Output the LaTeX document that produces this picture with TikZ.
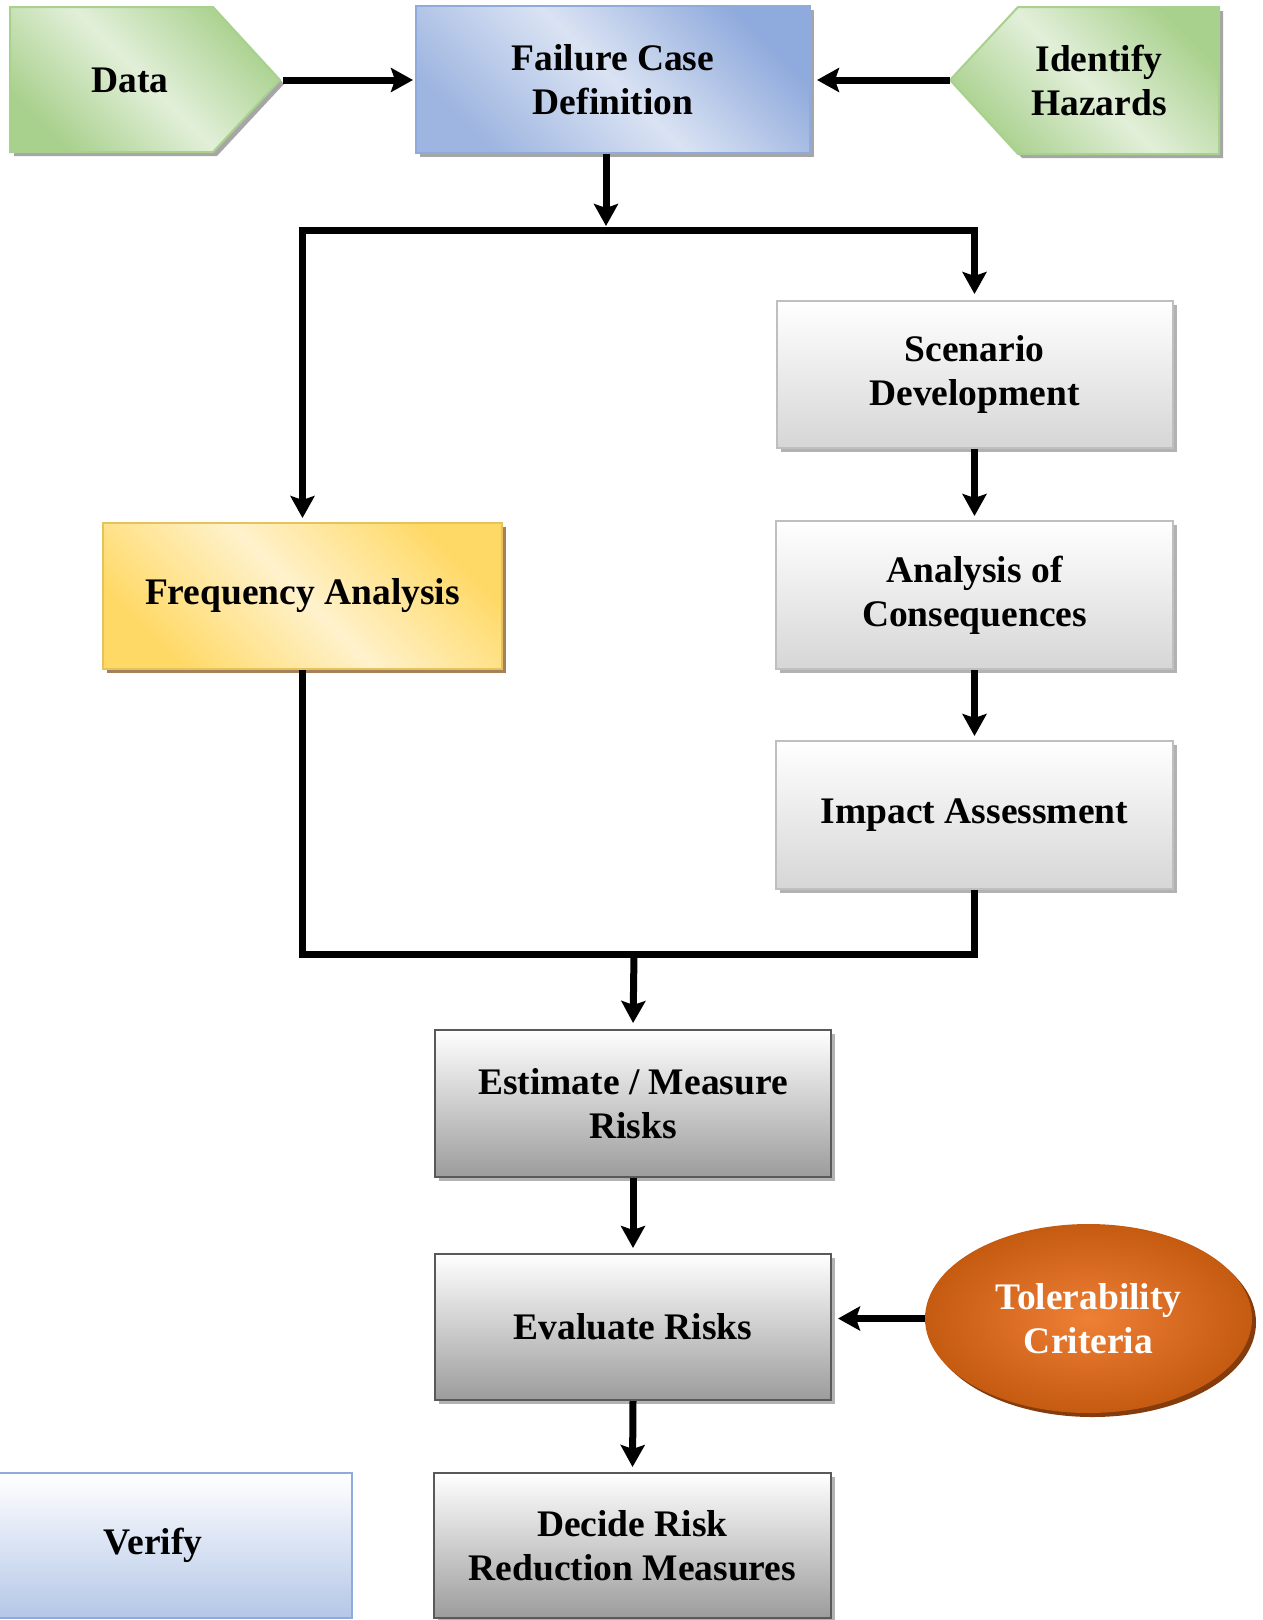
\documentclass[tikz,border=0pt]{standalone}
\usepackage{fontspec}
\setmainfont{Liberation Serif}
\usetikzlibrary{arrows.meta,shadows,calc,shapes.geometric}
\definecolor{grnL}{HTML}{E2EFD9}
\definecolor{grnD}{HTML}{A9D18E}
\definecolor{bluL}{HTML}{DAE3F3}
\definecolor{bluD}{HTML}{8FAADC}
\definecolor{gldL}{HTML}{FFF2CC}
\definecolor{gldD}{HTML}{FFD966}
\definecolor{gryL}{HTML}{D6D6D6}
\definecolor{gryD}{HTML}{9C9C9C}
\definecolor{orgL}{HTML}{EE8035}
\definecolor{orgD}{HTML}{C55A11}
\definecolor{brnS}{HTML}{843C0C}
\definecolor{verL}{HTML}{B4C7E7}
\begin{document}
\begin{tikzpicture}[x=1pt,y=-1pt,
  lbl/.style={font=\fontsize{37.5}{44}\selectfont\bfseries, align=center, text=black},
  boxbase/.style={lbl, rectangle, line width=2pt, inner sep=0pt},
  shad/.style={drop shadow={shadow xshift=4pt, shadow yshift=-4pt, fill=#1, opacity=1}},
  bluebox/.style={boxbase, draw=bluD, top color=bluD, bottom color=bluD!80!bluL, middle color=bluL, shading angle=-45, shad=gray!70},
  goldbox/.style={boxbase, draw=gldD!90!black, top color=gldD, bottom color=gldD, middle color=gldL, shading angle=-45, shad={brown!60!gray}},
  ltbox/.style={boxbase, draw=gray!50, top color=white, bottom color=gryL, shad=gray!60},
  dkbox/.style={boxbase, draw=gray!130, top color=white, bottom color=gryD, shad=gray!60},
  verbox/.style={boxbase, draw=bluD, top color=white, bottom color=verL},
  greenshape/.style={draw=grnD, line width=2pt, top color=grnD, bottom color=grnD, middle color=grnL, shading angle=-45},
  arr/.style={line width=7pt, -{Stealth[length=22pt,width=24pt,inset=4pt]}},
  ln/.style={line width=7pt},
]
\clip (0,0) rectangle (1263,1620);
\useasboundingbox (0,0) rectangle (1263,1620);

% green pentagons
\fill[gray!70] (14,11) -- (217,11) -- (284,84) -- (217,156) -- (14,156) -- cycle;
\path[greenshape] (10,7) -- (213,7) -- (280,80) -- (213,152) -- (10,152) -- cycle;
\node[lbl] (data) at (130,80) {Data};
\coordinate (datatip) at (280,80);

\fill[gray!70] (954,84) -- (1022,11) -- (1223,11) -- (1223,158) -- (1022,158) -- cycle;
\path[greenshape] (950,80) -- (1018,7) -- (1219,7) -- (1219,154) -- (1018,154) -- cycle;
\node[lbl] (ih) at (1099,80) {Identify\\Hazards};
\coordinate (ihtip) at (950,80);

% boxes
\node[bluebox, minimum width=394, minimum height=147] (fcd) at (613,79.5) {Failure Case\\Definition};
\node[goldbox, minimum width=399, minimum height=146] (fa) at (302.5,596) {Frequency Analysis};
\node[ltbox, minimum width=396, minimum height=147] (sd) at (974.5,374.5) {Scenario\\Development};
\node[ltbox, minimum width=397, minimum height=148] (ac) at (974.5,595) {Analysis of\\Consequences};
\node[ltbox, minimum width=397, minimum height=148] (ia) at (974.5,815) {Impact Assessment};
\node[dkbox, minimum width=396, minimum height=147] (emr) at (633,1103.5) {Estimate / Measure\\Risks};
\node[dkbox, minimum width=396, minimum height=146] (er) at (633,1327) {Evaluate Risks};
\node[dkbox, minimum width=397, minimum height=145] (dr) at (632.5,1545.5) {Decide Risk\\Reduction Measures};
\node[verbox, minimum width=398, minimum height=145, text width=398, align=center] (ver) at (153,1545.5) {Verify};
\node[ellipse, minimum width=327, minimum height=189, inner sep=0pt, lbl, text=white,
      inner color=orgL, outer color=orgD, shad=brnS] (tol) at (1088.5,1318.5) {Tolerability\\Criteria};

% connectors
\coordinate (split) at (606,230);
\coordinate (merge) at (634,954);
\draw[arr, shorten <=3pt, shorten >=2pt] (datatip) -- (datatip -| fcd.west);
\draw[arr, shorten >=6pt] (ihtip) -- (ihtip -| fcd.east);
\draw[arr, shorten >=4pt] (fcd.south -| split) -- (split);
\draw[arr, shorten >=4pt] (split) -| (fa.north);
\draw[arr, shorten >=6pt] (split) -| (sd.north);
\draw[arr, shorten >=4pt] (sd) -- (ac);
\draw[ln] (fa.south) |- (merge) -| (ia.south);
\draw[arr, shorten >=6pt] (merge) -- (emr.north);
\draw[arr, shorten >=5pt] (emr.south) -- (er.north);
\draw[arr, shorten >=5pt] (er.south) -- (dr.north);
\draw[arr, shorten >=6pt] (tol.west) -- (tol.west -| er.east);
\draw[arr, shorten >=4pt] (ac.south) -- (ia.north);
\end{tikzpicture}
\end{document}
